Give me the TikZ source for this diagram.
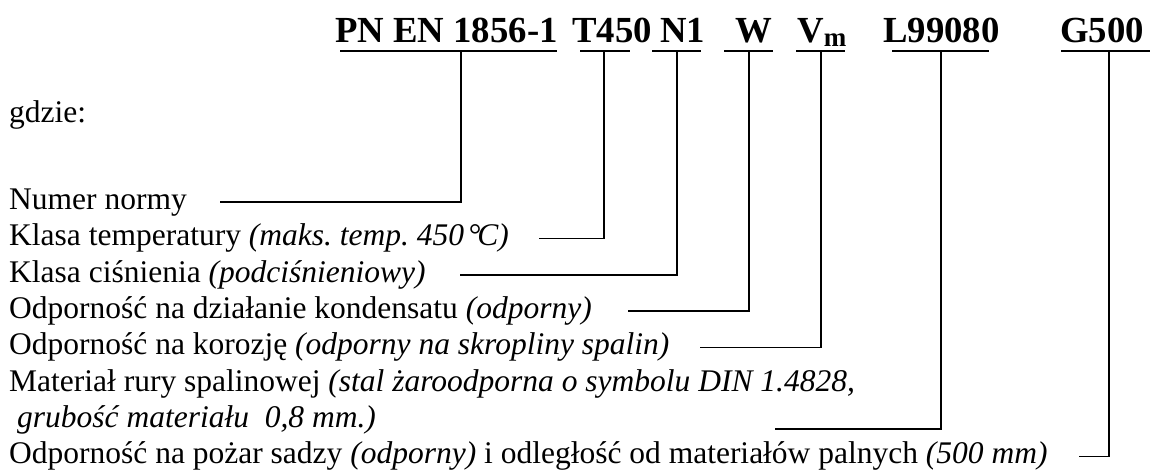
\documentclass[tikz,border=0pt]{standalone}
\usepackage{fontspec}
\setmainfont{Liberation Serif}
\begin{document}
\frenchspacing
\begin{tikzpicture}[x=1pt,y=-1pt,
  code/.style={anchor=base west, inner sep=0pt, font=\fontsize{36.75}{40}\selectfont\bfseries},
  desc/.style={anchor=base west, inner sep=0pt, font=\fontsize{31.5}{36}\selectfont\frenchspacing},
  wire/.style={line width=1.6pt, line join=miter},
  uline/.style={line width=2pt}]
\useasboundingbox (0,0) rectangle (1150,473);

% codes
\node[code] (pn) at (335,42.7) {PN EN 1856-1};
\node[code] (t)  at (572,42.7) {T450};
\node[code] (n)  at (660,42.7) {N1};
\node[code] (w)  at (735,42.7) {W};
\node[code] (v)  at (797,42.7) {V\raisebox{-4pt}{\fontsize{27}{27}\selectfont m}};
\node[code] (l)  at (883,42.7) {L99080};
\node[code] (g)  at (1060,42.7) {G500};

% underlines
\draw[uline] (340,50.7) -- (557,50.7);
\draw[uline] (580,50.7) -- (630,50.7);
\draw[uline] (652,50.7) -- (701,50.7);
\draw[uline] (724,50.7) -- (773,50.7);
\draw[uline] (796,50.7) -- (845,50.7);
\draw[uline] (892,50.7) -- (989,50.7);
\draw[uline] (1061,50.7) -- (1150,50.7);

% anchor points on the underlines
\coordinate (upn) at (461,50.7);
\coordinate (ut)  at (604,50.7);
\coordinate (un)  at (677,50.7);
\coordinate (uw)  at (749,50.7);
\coordinate (uv)  at (821,50.7);
\coordinate (ul)  at (941,50.7);
\coordinate (ug)  at (1109,50.7);

% descriptions
\node[desc] (gd) at (9,123) {gdzie:};
\node[desc] (d1) at (9,209) {Numer normy};
\node[desc] (d2) at (9,245.5) {Klasa temperatury \textit{(maks. temp. 450\kern0.12em°\kern-0.1em C)}};
\node[desc] (d3) at (9,282) {Klasa ciśnienia \textit{(podciśnieniowy)}};
\node[desc] (d4) at (9,318) {Odporność na działanie kondensatu \textit{(odporny)}};
\node[desc] (d5) at (9,354.5) {Odporność na korozję \textit{(odporny na skropliny spalin)}};
\node[desc] (d6) at (9,391) {Materiał rury spalinowej \textit{(stal żaroodporna o symbolu DIN 1.4828,}};
\node[desc] (d7) at (17,427) {\textit{grubość materiału\ \ 0,8 mm.)}};
\node[desc] (d8) at (9,463.5) {Odporność na pożar sadzy \textit{(odporny)} i odległość od materiałów palnych \textit{(500 mm)}};

% connector starts
\coordinate (s1) at (220,202);
\coordinate (s2) at (539,238.5);
\coordinate (s3) at (460,275);
\coordinate (s4) at (628,311);
\coordinate (s5) at (700,347.5);
\coordinate (s6) at (775,429);
\coordinate (s8) at (1079,456.5);

% connectors
\draw[wire] (s1) -| (upn);
\draw[wire] (s2) -| (ut);
\draw[wire] (s3) -| (un);
\draw[wire] (s4) -| (uw);
\draw[wire] (s5) -| (uv);
\draw[wire] (s6) -| (ul);
\draw[wire] (s8) -| (ug);
\end{tikzpicture}
\end{document}
